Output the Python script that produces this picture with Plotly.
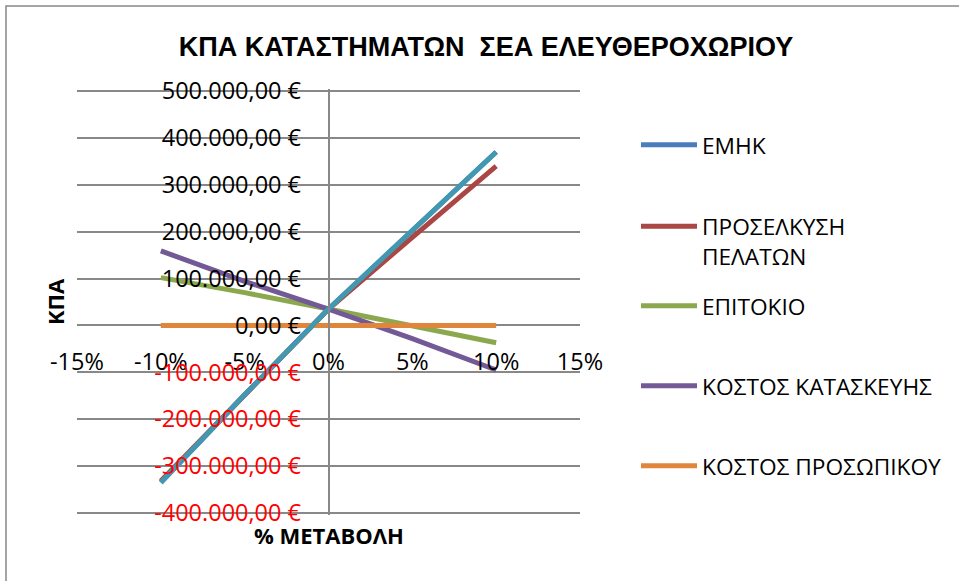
import plotly.graph_objects as go

# ---- data ----
changes = [-0.10, -0.05, 0.0, 0.05, 0.10]
series_names = ["ΕΜΗΚ", "ΠΡΟΣΕΛΚΥΣΗ<br>ΠΕΛΑΤΩΝ", "ΕΠΙΤΟΚΙΟ", "ΚΟΣΤΟΣ ΚΑΤΑΣΚΕΥΗΣ", "ΚΟΣΤΟΣ ΠΡΟΣΩΠΙΚΟΥ"]
emhk = [-335000, -148000, 35000, 202000, 370000]
proselkysi = [-332000, -149000, 35000, 188000, 340000]
epitokio = [102000, 70000, 35000, 0, -37000]
kostos_kataskevis = [159000, 94000, 35000, -28000, -95000]
kostos_prosopikou = [0, 0, 0, 0, 0]
series6 = [-335000, -148000, 35000, 202000, 370000]

x_tick_vals = [-0.15, -0.10, -0.05, 0.0, 0.05, 0.10, 0.15]
x_tick_text = ["-15%", "-10%", "-5%", "0%", "5%", "10%", "15%"]
y_tick_vals = [500000, 400000, 300000, 200000, 100000, 0, -100000, -200000, -300000, -400000]
y_tick_text = ["500.000,00 €", "400.000,00 €", "300.000,00 €", "200.000,00 €", "100.000,00 €", "0,00 €",
               "-100.000,00 €", "-200.000,00 €", "-300.000,00 €", "-400.000,00 €"]

title_text = "ΚΠΑ ΚΑΤΑΣΤΗΜΑΤΩΝ \u00a0ΣΕΑ ΕΛΕΥΘΕΡΟΧΩΡΙΟΥ"
x_title = "% ΜΕΤΑΒΟΛΗ"
y_title = "ΚΠΑ"

colors = ["#4A7EBB", "#AA4643", "#8BA84F", "#735A96", "#E0853C"]
teal = "#4298B1"

# ---- layout geometry (pixels) ----
W, H = 959, 581
L, R, T, B = 77, 580, 89, 515
pw, ph = R - L, B - T


def px_x(p):
    return (p - L) / pw


def px_y(p):
    return (B - p) / ph


fig = go.Figure()
all_series = [emhk, proselkysi, epitokio, kostos_kataskevis, kostos_prosopikou]
legend_ids = ["legend", "legend2", "legend3", "legend4", "legend5"]
for name, vals, col, lid in zip(series_names, all_series, colors, legend_ids):
    fig.add_trace(go.Scatter(x=changes, y=vals, mode="lines", name=name,
                             line=dict(color=col, width=5), legend=lid))
fig.add_trace(go.Scatter(x=changes, y=series6, mode="lines", name="Σειρά6",
                         line=dict(color=teal, width=5), showlegend=False))

y_tick_labels = [t if v >= 0 else '<span style="color:#FF0000">' + t + '</span>'
                 for v, t in zip(y_tick_vals, y_tick_text)]

grid = "#888888"
tickfont = dict(family="Open Sans", size=23.5, color="#000000")

legend_common = dict(font=dict(family="Open Sans", size=22.7, color="#000000"),
                     bgcolor="rgba(0,0,0,0)", xanchor="left", itemwidth=56,
                     x=px_x(636), tracegroupgap=0)
legend_ys = [145, 221, 306, 386, 466]

layout_legends = {}
for lid, yp in zip(legend_ids, legend_ys):
    d = dict(legend_common)
    if lid == "legend2":
        d.update(y=px_y(yp - 16), yanchor="top", valign="top")
    else:
        d.update(y=px_y(yp), yanchor="middle")
    layout_legends[lid] = d

fig.update_layout(
    width=W, height=H,
    margin=dict(l=L, r=W - R, t=T, b=H - B),
    paper_bgcolor="white", plot_bgcolor="white",
    title=dict(text="<b>" + title_text + "</b>", x=486 / W, xref="container", xanchor="center",
               y=1 - 47 / H, yref="container", yanchor="middle",
               font=dict(family="Liberation Sans", size=27, color="#000000")),
    xaxis=dict(range=[-0.15, 0.15], tickvals=x_tick_vals, ticktext=x_tick_text,
               anchor="free", position=px_y(325), showgrid=False, zeroline=False,
               showline=False, ticks="", ticklabelstandoff=20, tickfont=tickfont),
    yaxis=dict(range=[-404300, 504300], tickvals=y_tick_vals, ticktext=y_tick_labels,
               anchor="free", position=0.5, showgrid=True, gridcolor=grid, gridwidth=1.5,
               zeroline=False, showline=True, linecolor=grid, linewidth=1.5,
               ticks="", ticklabelstandoff=22, tickfont=tickfont),
    showlegend=True,
    annotations=[
        dict(text="<b>" + y_title + "</b>", xref="paper", yref="paper", x=px_x(55), y=px_y(302),
             xanchor="center", yanchor="middle",
             textangle=-90, showarrow=False, font=dict(family="Open Sans", size=22, color="#000000")),
        dict(text="<b>" + x_title + "</b>", xref="paper", yref="paper", x=px_x(329), y=px_y(535),
             xanchor="center", yanchor="middle",
             showarrow=False, font=dict(family="Open Sans", size=22, color="#000000")),
    ],
    shapes=[
        dict(type="rect", xref="paper", yref="paper", x0=px_x(6), x1=px_x(1100),
             y0=px_y(700), y1=px_y(6), line=dict(color=grid, width=1.5), layer="below"),
    ],
    **layout_legends,
)

fig.write_html("out.html", config={"displayModeBar": False},
               post_script="document.body.style.margin='0';")
